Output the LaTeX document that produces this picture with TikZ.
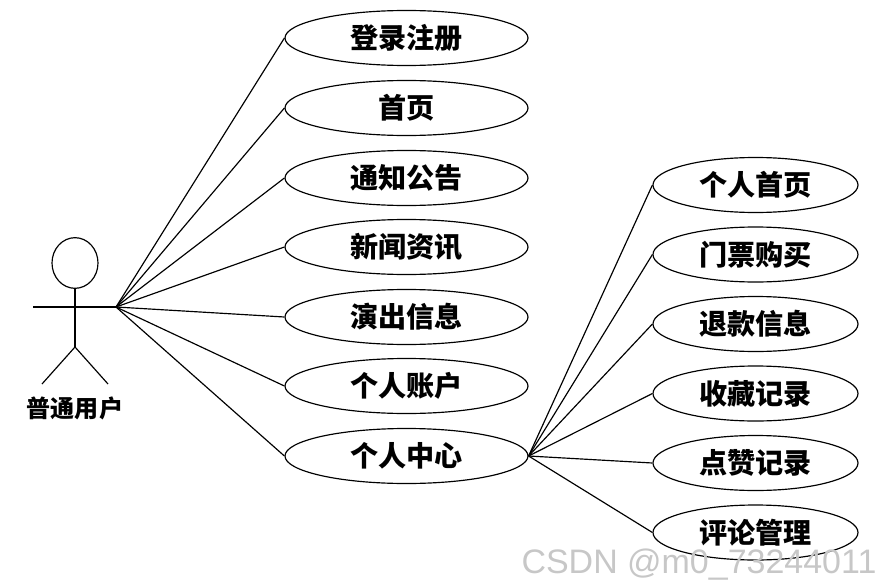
\documentclass[tikz,border=0pt]{standalone}
\usepackage{fontspec}
\newfontfamily\cjk{Noto Sans CJK SC}
\newfontfamily\wzfont{Liberation Sans}
\usetikzlibrary{shapes.geometric}
\begin{document}
\begin{tikzpicture}[x=0.03cm,y=-0.03cm,line width=1pt,
	fall/.style={draw,ellipse,line width=1pt,minimum width=7.29cm,minimum height=1.65cm,inner sep=0pt,font=\cjk\bfseries\fontsize{24}{28}\selectfont},
	fallr/.style={fall,minimum width=6.15cm}]
	\useasboundingbox (0,0) rectangle (894,588);
	\draw (75,263) ellipse (0.69cm and 0.76cm);%Kopf
	\coordinate (hals) at (75,289);
	\coordinate (huefte) at (75,347);
	\coordinate (hand) at (116,307);
	\draw (33,307) -- (hand);%Arme
	\draw (hals) -- (huefte);%Koerper
	\draw (42,384) -- (huefte) -- (108,384);%Beine
	\node[font=\cjk\bfseries\fontsize{20.5}{24}\selectfont] (nutzer) at (75,408) {普通用户};
	\node[fall] (login) at (406.5,38) {登录注册};
	\node[fall] (start) at (406.5,108) {首页};
	\node[fall] (notiz) at (406.5,178) {通知公告};
	\node[fall] (news) at (406.5,247) {新闻资讯};
	\node[fall] (show) at (406.5,317) {演出信息};
	\node[fall] (konto) at (406.5,386) {个人账户};
	\node[fall] (zentrum) at (406.5,456) {个人中心};
	\node[fallr] (home) at (755.5,185) {个人首页};
	\node[fallr] (ticket) at (755.5,254.5) {门票购买};
	\node[fallr] (refund) at (755.5,324) {退款信息};
	\node[fallr] (fav) at (755.5,393.5) {收藏记录};
	\node[fallr] (like) at (755.5,463) {点赞记录};
	\node[fallr] (komm) at (755.5,532.5) {评论管理};
	\draw (hand) -- (login.west);%Verbindungen Nutzer
	\draw (hand) -- (start.west);
	\draw (hand) -- (notiz.west);
	\draw (hand) -- (news.west);
	\draw (hand) -- (show.west);
	\draw (hand) -- (konto.west);
	\draw (hand) -- (zentrum.west);
	\draw (zentrum.east) -- (home.west);%Verbindungen Zentrum
	\draw (zentrum.east) -- (ticket.west);
	\draw (zentrum.east) -- (refund.west);
	\draw (zentrum.east) -- (fav.west);
	\draw (zentrum.east) -- (like.west);
	\draw (zentrum.east) -- (komm.west);
	\node[text=black!22,font=\wzfont\fontsize{29}{33}\selectfont,inner sep=0pt] (wz) at (699,565) {CSDN @m0\_73244011};
\end{tikzpicture}
\end{document}
